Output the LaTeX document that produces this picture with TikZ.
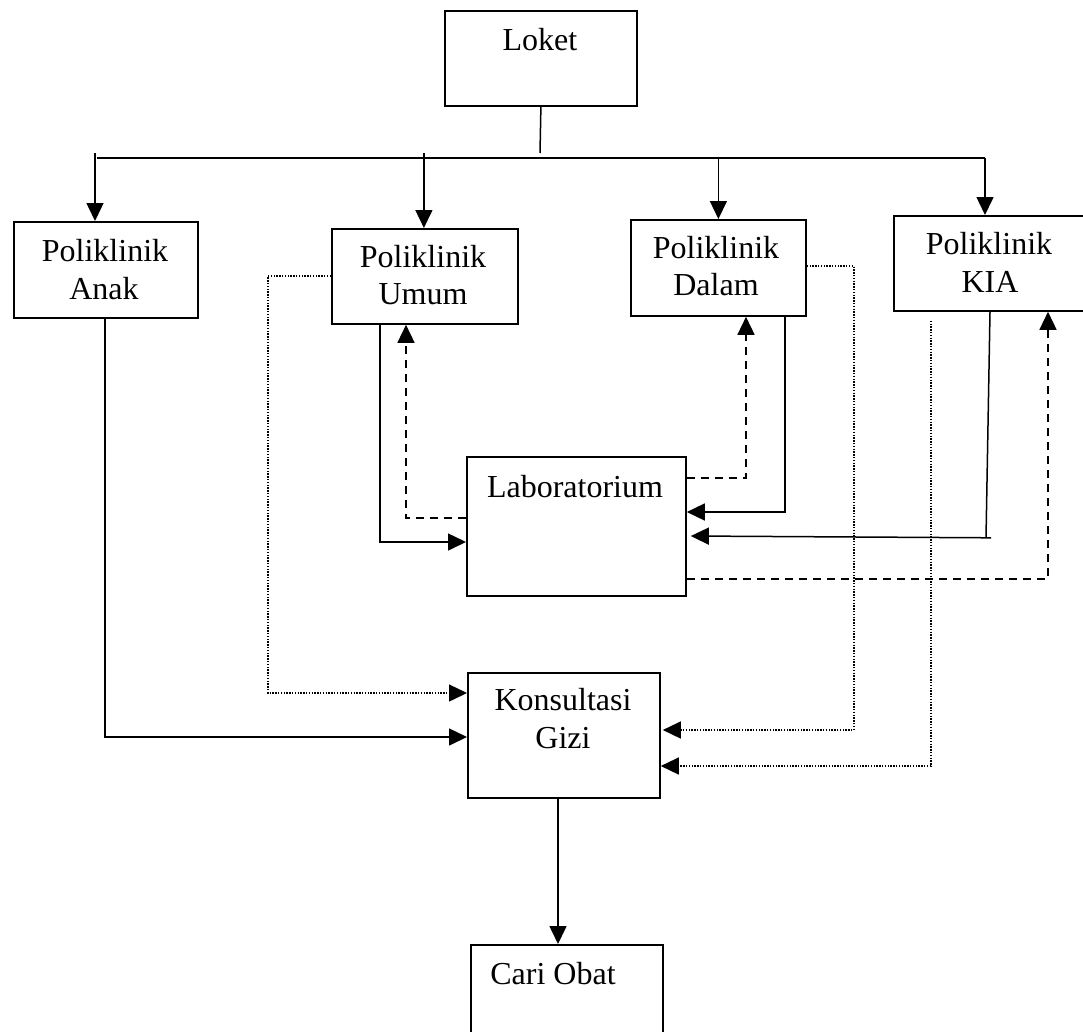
\documentclass[tikz,border=0pt]{standalone}
\usepackage{fontspec}
\setmainfont{Liberation Serif}
\usetikzlibrary{arrows.meta,calc}
\tikzset{
  box/.style={draw, line width=1.8pt, inner sep=0pt, anchor=north west},
  txt/.style={anchor=base, inner sep=0pt, font=\fontsize{32}{38}\selectfont},
  conn/.style={line width=1.5pt},
  arr/.style={conn, -{Triangle[length=18pt,width=17pt]}},
  dsh/.style={dash pattern=on 8pt off 6pt},
  dot/.style={line width=1.4pt, dash pattern=on 1.4pt off 1.4pt},
}
\begin{document}
\begin{tikzpicture}[x=1pt,y=-1pt]
\useasboundingbox (0,0) rectangle (1083,1031);
\fill[white] (0,0) rectangle (1083,1031);
% boxes
\node[box, minimum width=192pt, minimum height=95pt] (loket) at (444,10) {};
\node[box, minimum width=184pt, minimum height=96pt] (anak) at (13,221) {};
\node[box, minimum width=186pt, minimum height=95pt] (umum) at (331,228) {};
\node[box, minimum width=175pt, minimum height=96pt] (dalam) at (630,219) {};
\node[box, minimum width=220pt, minimum height=95pt] (kia) at (893,215) {};
\node[box, minimum width=219pt, minimum height=139pt] (lab) at (466,456) {};
\node[box, minimum width=192pt, minimum height=125pt] (kons) at (467,672) {};
\node[box, minimum width=192pt, minimum height=120pt] (obat) at (470,944) {};
% texts
\node[txt] (loketT) at (540,50) {Loket};
\node[txt] (anakT1) at (105,261) {Poliklinik};
\node[txt] (anakT2) at (104,299) {Anak};
\node[txt] (umumT1) at (423,267) {Poliklinik};
\node[txt] (umumT2) at (423,304) {Umum};
\node[txt] (dalamT1) at (716,258) {Poliklinik};
\node[txt] (dalamT2) at (716,295) {Dalam};
\node[txt] (kiaT1) at (989,254) {Poliklinik};
\node[txt] (kiaT2) at (990,292) {KIA};
\node[txt] (labT) at (575,497) {Laboratorium};
\node[txt] (konsT1) at (563,710) {Konsultasi};
\node[txt] (konsT2) at (563,748) {Gizi};
\node[txt] (obatT) at (553,984) {Cari Obat};
% distribution from Loket
\coordinate (stemEnd) at (540,153);
\coordinate (busL) at (97,158);
\coordinate (busR) at (985,158);
\draw[conn] (loket.south) -- (stemEnd);
\draw[conn] (busL) -- (busR);
\draw[arr] ($(anak.north west)+(82,-68)$) -- ($(anak.north west)+(82,0)$);
\draw[arr] ($(umum.north)+(-1,-75)$) -- ($(umum.north)+(-1,0)$);
\draw[arr] (busR -| dalam.north) -- (dalam.north);
\draw[arr] (busR) -- (busR |- kia.north);
% Umum <-> Lab
\draw[arr] ($(umum.south west)+(49,0)$) |- ($(lab.north west)+(0,86)$);
\draw[arr,dsh] ($(lab.north west)+(0,62)$) -| ($(umum.south west)+(75,0)$);
% Dalam <-> Lab
\draw[arr,dsh] ($(lab.north east)+(0,22)$) -| ($(dalam.south west)+(116,0)$);
\draw[arr] ($(dalam.south west)+(155,0)$) |- ($(lab.north east)+(0,56)$);
% KIA <-> Lab
\draw[conn] ($(kia.south west)+(97,0)$) -- ($(kia.south west)+(93,226)$);
\draw[arr] ($(kia.south west)+(98,226)$) -- ($(lab.north east)+(4,80)$);
\draw[arr,dsh] ($(lab.north east)+(0,123)$) -| ($(kia.south west)+(155,0)$);
% to Konsultasi Gizi
\draw[arr,dot] ($(umum.north west)+(0,48)$) -| ($(kons.north west)+(-199,21)$) -- ($(kons.north west)+(0,21)$);
\draw[arr] ($(anak.south west)+(92,0)$) |- ($(kons.north west)+(0,65)$);
\draw[arr,dot] ($(dalam.north east)+(0,47)$) -| ($(kons.north east)+(193,58)$) -- ($(kons.north east)+(2,58)$);
\draw[arr,dot] ($(kia.south west)+(38,9)$) |- ($(kons.north east)+(0,94)$);
% to Cari Obat
\draw[arr] ($(kons.south west)+(91,0)$) -- ($(obat.north west)+(88,0)$);
\end{tikzpicture}
\end{document}
